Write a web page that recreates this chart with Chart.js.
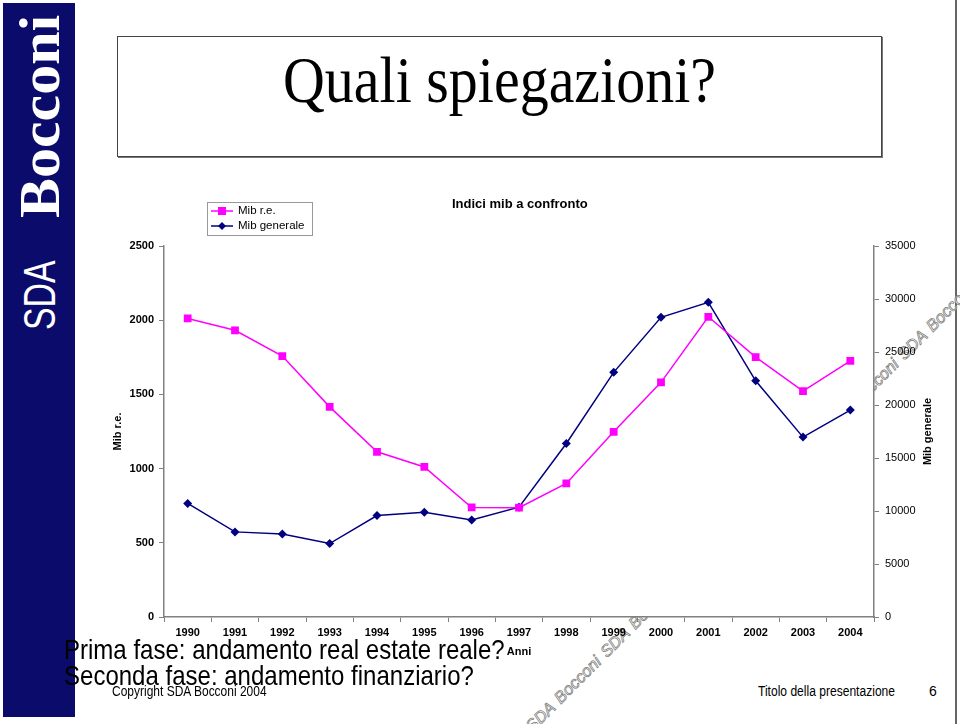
<!DOCTYPE html>
<html>
<head>
<meta charset="utf-8">
<script src="https://cdn.jsdelivr.net/npm/chart.js@4/dist/chart.umd.min.js"></script>
<style>
  body { margin: 0; width: 960px; height: 724px; background: #fff; overflow: hidden; position: relative; font-family: "Liberation Sans", Arial, sans-serif; }
  .abs { position: absolute; white-space: nowrap; }
  #bar { left: 3px; top: 3px; width: 72px; height: 714px; background: #0b0b6b; }
  #brand { left: 0; top: 0; width: 330px; height: 44px; transform-origin: 0 0; transform: translate(18px, 331px) rotate(-90deg); color: #fff; line-height: 44px; }
  #brand .sda { left: 1px; top: 0; font-family: "Liberation Sans", sans-serif; font-size: 45px; transform-origin: 0 0; }
  #brand .boc { left: 113px; top: 0; font-family: "Liberation Serif", serif; font-size: 57px; font-weight: bold; transform-origin: 0 0; }
  #edge { left: 955px; top: 0; width: 2px; height: 724px; background: #666; }
  #titlebox { left: 117px; top: 36px; width: 763px; height: 119px; border: 1px solid #444; box-shadow: 1px 1px 0 #777; }
  #title { left: 283px; top: 42px; font-family: "Liberation Serif", serif; font-size: 66px; line-height: 76px; transform-origin: 0 0; }
  #wm { left: 0; top: 0; transform-origin: 0 0; transform: translate(522px, 722px) rotate(-45deg); font-size: 16.5px; font-style: italic; color: #fff; -webkit-text-stroke: 0.7px #777; word-spacing: 2px; }
  #wrap { left: 95px; top: 190px; width: 840px; height: 472px; }
  #ctitle { left: 452px; top: 196px; font-size: 13px; font-weight: bold; }
  #legend { left: 207px; top: 202px; width: 104px; height: 32px; border: 1px solid #999; background: #fff; font-size: 11.5px; }
  #legend div { height: 15px; line-height: 15px; display: flex; align-items: center; padding-left: 3px; }
  #legend svg { margin-right: 5px; }
  .big { font-size: 28px; line-height: 28px; transform-origin: 0 0; }
  .small { font-size: 14px; line-height: 14px; transform-origin: 0 0; }
</style>
</head>
<body>
<div class="abs" id="bar"></div>
<div class="abs" id="brand"><span class="abs sda fit" data-w="70">SDA</span><span class="abs boc fit" data-w="203">Bocconi</span></div>
<div class="abs" id="edge"></div>
<div class="abs" id="titlebox"></div>
<div class="abs fit" id="title" data-w="433">Quali spiegazioni?</div>
<div class="abs" id="wm">SDA Bocconi SDA Bocconi SDA Bocconi SDA Bocconi SDA Bocconi SDA Bocconi</div>
<div class="abs" id="wrap"><canvas id="chart"></canvas></div>
<div class="abs" id="ctitle">Indici mib a confronto</div>
<div class="abs" id="legend">
  <div><svg width="22" height="10"><line x1="0" y1="5" x2="22" y2="5" stroke="#ff00ff" stroke-width="1.5"/><rect x="7" y="1" width="8" height="8" fill="#ff00ff"/></svg>Mib r.e.</div>
  <div><svg width="22" height="10"><line x1="0" y1="5" x2="22" y2="5" stroke="#000080" stroke-width="1.5"/><polygon points="11,1 15,5 11,9 7,5" fill="#000080"/></svg>Mib generale</div>
</div>
<div class="abs big fit" data-w="441" style="left:64px; top:636px;">Prima fase: andamento real estate reale?</div>
<div class="abs big fit" data-w="410" style="left:64px; top:662px;">Seconda fase: andamento finanziario?</div>
<div class="abs small fit" data-w="155" style="left:112px; top:684px;">Copyright SDA Bocconi 2004</div>
<div class="abs small fit" data-w="137" style="left:758px; top:684px;">Titolo della presentazione</div>
<div class="abs small" style="left:929px; top:684px;">6</div>

<script>
const years = ['1990','1991','1992','1993','1994','1995','1996','1997','1998','1999','2000','2001','2002','2003','2004'];
const mibRE = [2012, 1932, 1758, 1416, 1113, 1011, 738, 737, 900, 1248, 1581, 2023, 1751, 1522, 1726];
const mibGenerale = [10710, 8030, 7840, 6930, 9570, 9890, 9160, 10360, 16370, 23080, 28270, 29690, 22280, 16970, 19520];

// squeeze the slide texts to the width they take in the picture
document.querySelectorAll('.fit').forEach(el => {
  const w = el.offsetWidth;
  el.style.transform = 'scaleX(' + (el.dataset.w / w) + ')';
});

const FONT = 'Liberation Sans';
const axisGrey = '#808080';

// white plot area (hides the watermark) + right axis title reading upwards
const plotPlugin = {
  id: 'plotArea',
  beforeDraw(chart) {
    const a = chart.chartArea, ctx = chart.ctx;
    ctx.save();
    ctx.fillStyle = '#fff';
    ctx.fillRect(a.left, a.top, a.right - a.left, a.bottom - a.top);
    ctx.restore();
  },
  afterDraw(chart) {
    const s = chart.scales.y1, ctx = chart.ctx;
    ctx.save();
    ctx.translate(s.right - 7, (s.top + s.bottom) / 2);
    ctx.rotate(-Math.PI / 2);
    ctx.font = 'bold 11px ' + FONT;
    ctx.fillStyle = '#000';
    ctx.textAlign = 'center';
    ctx.textBaseline = 'middle';
    ctx.fillText('Mib generale', 0, 0);
    ctx.restore();
  }
};

new Chart(document.getElementById('chart'), {
  type: 'line',
  data: {
    labels: years,
    datasets: [
      {
        label: 'Mib r.e.',
        data: mibRE,
        yAxisID: 'y',
        borderColor: '#ff00ff',
        backgroundColor: '#ff00ff',
        borderWidth: 1.5,
        pointStyle: 'rect',
        pointRadius: 5.5,
        pointBorderWidth: 0,
        tension: 0
      },
      {
        label: 'Mib generale',
        data: mibGenerale,
        yAxisID: 'y1',
        borderColor: '#000080',
        backgroundColor: '#000080',
        borderWidth: 1.5,
        pointStyle: 'rectRot',
        pointRadius: 4.5,
        pointBorderWidth: 0,
        tension: 0
      }
    ]
  },
  options: {
    responsive: true,
    maintainAspectRatio: false,
    animation: false,
    layout: { padding: { top: 56, left: 0, right: 0, bottom: 0 } },
    plugins: { legend: { display: false }, title: { display: false }, tooltip: { enabled: false } },
    scales: {
      x: {
        offset: true,
        grid: { offset: true, drawOnChartArea: false, tickLength: 5, color: axisGrey },
        border: { color: axisGrey, width: 1.5 },
        ticks: { color: '#000', font: { family: FONT, size: 11, weight: 'bold' }, maxRotation: 0, autoSkip: false, padding: 4 },
        title: { display: true, text: 'Anni', color: '#000', font: { family: FONT, size: 11, weight: 'bold' }, padding: { top: 0, bottom: 3 } },
        afterFit: s => { s.height = 45; }
      },
      y: {
        position: 'left',
        min: 0, max: 2500,
        grid: { drawOnChartArea: false, tickLength: 5, color: axisGrey },
        border: { color: axisGrey, width: 1.5 },
        ticks: { stepSize: 500, color: '#000', font: { family: FONT, size: 11, weight: 'bold' }, padding: 5, callback: v => String(v) },
        title: { display: true, text: 'Mib r.e.', color: '#000', font: { family: FONT, size: 11, weight: 'bold' }, padding: { top: 16, bottom: 0 } },
        afterFit: s => { s.width = 69; }
      },
      y1: {
        position: 'right',
        min: 0, max: 35000,
        grid: { drawOnChartArea: false, tickLength: 5, color: axisGrey },
        border: { color: axisGrey, width: 1.5 },
        ticks: { stepSize: 5000, color: '#000', font: { family: FONT, size: 11 }, padding: 6, callback: v => String(v) },
        afterFit: s => { s.width = 61; }
      }
    }
  },
  plugins: [plotPlugin]
});
</script>
</body>
</html>
